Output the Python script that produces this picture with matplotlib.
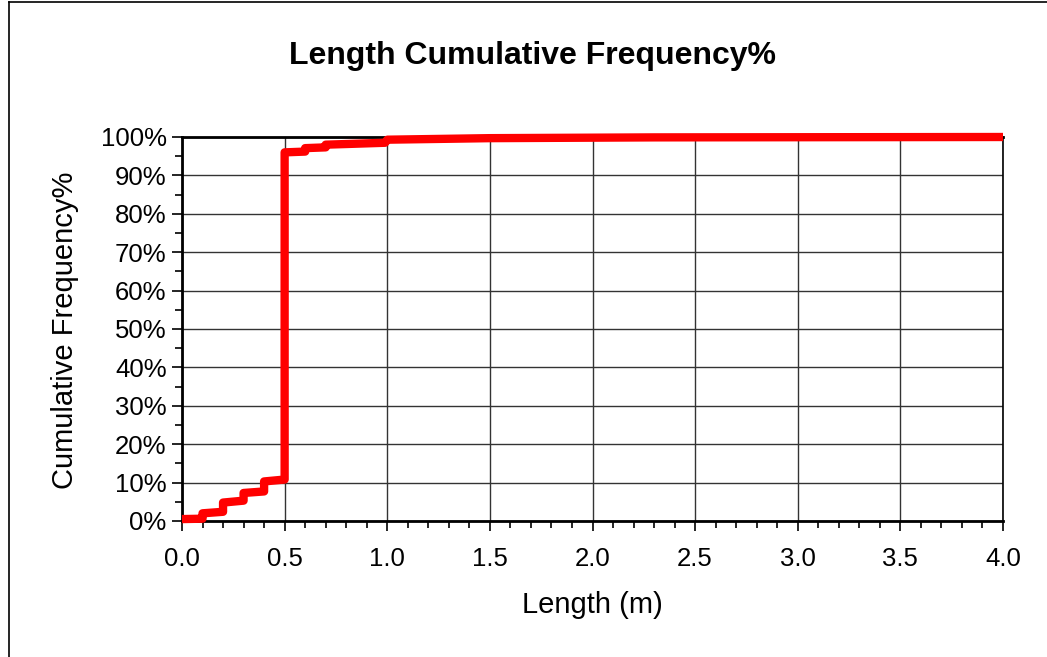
import numpy as np
import matplotlib.pyplot as plt
from matplotlib.ticker import MultipleLocator, PercentFormatter
from matplotlib.lines import Line2D

plt.rcParams['font.family'] = ['Liberation Sans', 'DejaVu Sans']

# cumulative frequency curve (length in m, cumulative %)
lengths = [0.0, 0.1, 0.1, 0.2, 0.2, 0.3, 0.3, 0.4, 0.4, 0.5, 0.5, 0.6, 0.6,
           0.7, 0.7, 0.99, 1.0, 1.5, 2.3, 4.0]
cum_pct = [0.5, 0.6, 2.0, 2.4, 4.8, 5.3, 7.3, 7.7, 10.3, 10.8, 96.0, 96.2, 97.1,
           97.3, 98.0, 98.5, 99.3, 99.7, 99.9, 100.0]

fig = plt.figure(figsize=(10.47, 6.57), dpi=100, facecolor='w')
ax = fig.add_axes([182/1047, 1-521/657, (1003-182)/1047, (521-137)/657])

ax.plot(lengths, cum_pct, color='#ff0000', linewidth=6, solid_joinstyle='round',
        solid_capstyle='butt', zorder=5, clip_on=False)

ax.set_xlim(0, 4)
ax.set_ylim(0, 100)
ax.xaxis.set_major_locator(MultipleLocator(0.5))
ax.xaxis.set_minor_locator(MultipleLocator(0.1))
ax.yaxis.set_major_locator(MultipleLocator(10))
ax.yaxis.set_minor_locator(MultipleLocator(5))
ax.yaxis.set_major_formatter(PercentFormatter(decimals=0))
ax.xaxis.set_major_formatter(lambda v, p: '%.1f' % v)

ax.grid(True, which='major', color='#333333', linewidth=1.0)
ax.set_axisbelow(True)
for s in ax.spines.values():
    s.set_color('black')
    s.set_linewidth(1.2)
ax.spines['left'].set_linewidth(2)
ax.spines['bottom'].set_linewidth(2)
ax.spines['top'].set_linewidth(2)

ax.tick_params(which='major', direction='out', length=7, width=1.2, labelsize=18.5,
               pad=4)
ax.tick_params(which='minor', direction='out', length=5, width=1.2)
ax.tick_params(axis='x', pad=12)

ax.set_xlabel('Length (m)', fontsize=21, va='center')
ax.set_ylabel('Cumulative Frequency%', fontsize=21, va='center')
ax.xaxis.set_label_coords(0.4994, (521-605)/384)
ax.yaxis.set_label_coords((65-182)/821, 0.497)
fig.text(533/1047, 1-56/657, 'Length Cumulative Frequency%', fontsize=23,
         fontweight='bold', ha='center', va='center')

# chart area border (left and top edges visible)
fig.add_artist(Line2D([9/1047, 9/1047], [0, 1-2/657], transform=fig.transFigure,
                      color='black', linewidth=1.2))
fig.add_artist(Line2D([9/1047, 1], [1-2/657, 1-2/657], transform=fig.transFigure,
                      color='black', linewidth=1.2))

plt.savefig('out.png', dpi=100)
